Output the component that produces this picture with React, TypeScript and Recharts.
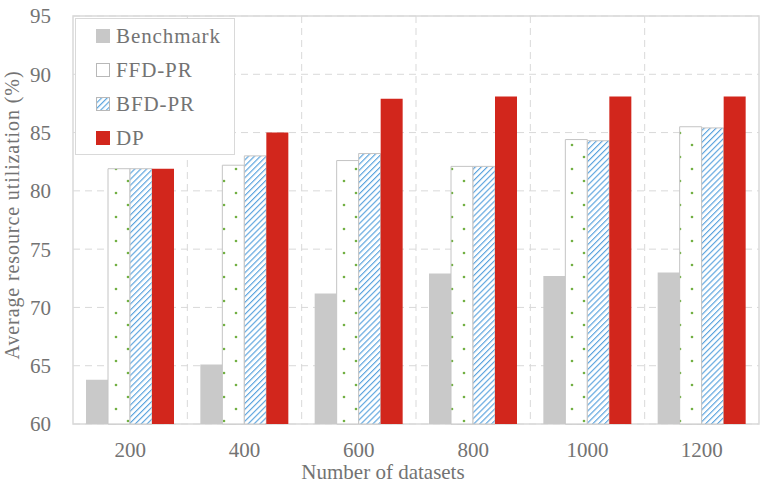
import React from 'react'
import {
  Bar,
  BarChart,
  CartesianGrid,
  Label,
  Legend,
  ReferenceArea,
  XAxis,
  YAxis,
} from 'recharts'

const datasets = ['200', '400', '600', '800', '1000', '1200']
const benchmark = [63.8, 65.1, 71.2, 72.9, 72.7, 73.0]
const ffdPr = [81.9, 82.2, 82.6, 82.1, 84.4, 85.5]
const bfdPr = [81.9, 83.0, 83.2, 82.1, 84.3, 85.4]
const dp = [81.9, 85.0, 87.9, 88.1, 88.1, 88.1]
const yTicks = [60, 65, 70, 75, 80, 85, 90, 95]

const data = datasets.map((name, i) => ({
  name,
  benchmark: benchmark[i],
  ffd: ffdPr[i],
  bfd: bfdPr[i],
  dp: dp[i],
}))

const font = '"Liberation Serif", "Times New Roman", serif'
const textColor = '#737373'
const gridColor = '#d9d9d9'

const legendItems = [
  { key: 'benchmark', label: 'Benchmark' },
  { key: 'ffd', label: 'FFD-PR' },
  { key: 'bfd', label: 'BFD-PR' },
  { key: 'dp', label: 'DP' },
]

function Swatch({ kind }: { kind: string }) {
  return (
    <svg width={14} height={14} style={{ display: 'block' }}>
      <defs>
        <pattern id={'sw-' + kind} patternUnits="userSpaceOnUse" width={4} height={4} patternTransform="rotate(45)">
          <rect width={4} height={4} fill="#fff" />
          <line x1={0} y1={0} x2={0} y2={4} stroke="#5ea7e0" strokeWidth={2.4} />
        </pattern>
      </defs>
      {kind === 'benchmark' && <rect x={0} y={0} width={14} height={14} fill="#c8c8c8" />}
      {kind === 'ffd' && <rect x={0.5} y={0.5} width={13} height={13} fill="#fff" stroke="#b8b8b8" />}
      {kind === 'bfd' && <rect x={0.5} y={0.5} width={13} height={13} fill={'url(#sw-' + kind + ')'} stroke="#b8b8b8" />}
      {kind === 'dp' && <rect x={0} y={0} width={14} height={14} fill="#d2261c" />}
    </svg>
  )
}

function LegendBox() {
  return (
    <div
      style={{
        width: 158,
        height: 135,
        border: `1.5px solid ${gridColor}`,
        background: '#fff',
        fontFamily: font,
        fontSize: 21,
        color: textColor,
      }}
    >
      {legendItems.map((it, i) => (
        <div
          key={it.key}
          style={{
            position: 'absolute',
            left: 21,
            top: 5 + i * 34,
            height: 26,
            display: 'flex',
            alignItems: 'center',
          }}
        >
          <Swatch kind={it.key} />
          <span style={{ marginLeft: 6, letterSpacing: 0.9, whiteSpace: 'nowrap' }}>{it.label}</span>
        </div>
      ))}
    </div>
  )
}

export default function App() {
  return (
    <div style={{ position: 'absolute', left: 0, top: 0, width: 766, height: 483, background: '#fff' }}>
      <BarChart
        width={766}
        height={483}
        data={data}
        margin={{ top: 16, right: 7, bottom: 0, left: 0 }}
        barCategoryGap={13}
        barGap={0}
      >
        <defs>
          <pattern id="dots" patternUnits="userSpaceOnUse" x={20} y={1} width={24} height={24}>
            <rect width={24} height={24} fill="#fff" />
            <circle cx={0} cy={0} r={1.3} fill="#72b043" />
            <circle cx={24} cy={0} r={1.3} fill="#72b043" />
            <circle cx={0} cy={24} r={1.3} fill="#72b043" />
            <circle cx={24} cy={24} r={1.3} fill="#72b043" />
            <circle cx={12} cy={12} r={1.3} fill="#72b043" />
          </pattern>
          <pattern id="stripes" patternUnits="userSpaceOnUse" width={4.2} height={4.2} patternTransform="rotate(45)">
            <rect width={4.2} height={4.2} fill="#fff" />
            <line x1={0} y1={0} x2={0} y2={4.2} stroke="#5aa3de" strokeWidth={2.3} />
          </pattern>
        </defs>
        <CartesianGrid
          stroke={gridColor}
          strokeDasharray="7 5"
          verticalCoordinatesGenerator={({ offset }: any) =>
            [1, 2, 3, 4, 5].map((k) => offset.left + (k * offset.width) / datasets.length)
          }
        />
        <ReferenceArea y1={60} y2={95} fill="none" stroke={gridColor} strokeWidth={1.5} ifOverflow="visible" />
        <XAxis
          dataKey="name"
          height={59}
          axisLine={false}
          tickLine={false}
          tickSize={0}
          tickMargin={18}
          tick={{ fill: textColor, fontSize: 21, fontFamily: font }}
        >
          <Label
            content={({ viewBox }: any) => (
              <text
                x={383}
                y={viewBox.y + 55}
                textAnchor="middle"
                fill={textColor}
                fontSize={21}
                fontFamily={font}
              >
                Number of datasets
              </text>
            )}
          />
        </XAxis>
        <YAxis
          width={73}
          domain={[60, 95]}
          ticks={yTicks}
          interval={0}
          axisLine={false}
          tickLine={false}
          tickSize={0}
          tickMargin={22}
          tick={{ fill: textColor, fontSize: 21, fontFamily: font }}
        >
          <Label
            content={({ viewBox }: any) => {
              const cy = viewBox.y + viewBox.height / 2 - 5
              return (
                <text
                  x={19}
                  y={cy}
                  transform={`rotate(-90 19 ${cy})`}
                  textAnchor="middle"
                  fill={textColor}
                  fontSize={20}
                  letterSpacing={0.9}
                  fontFamily={font}
                >
                  Average resource utilization (%)
                </text>
              )
            }}
          />
        </YAxis>
        <Legend
          layout="vertical"
          align="center"
          verticalAlign="middle"
          wrapperStyle={{ left: 75, top: 18, width: 160, height: 137 }}
          content={() => <LegendBox />}
        />
        <Bar dataKey="benchmark" name="Benchmark" fill="#c9c9c9" isAnimationActive={false} />
        <Bar dataKey="ffd" name="FFD-PR" fill="url(#dots)" stroke="#c4c4c4" strokeWidth={1} isAnimationActive={false} />
        <Bar dataKey="bfd" name="BFD-PR" fill="url(#stripes)" stroke="#c4c4c4" strokeWidth={1} isAnimationActive={false} />
        <Bar dataKey="dp" name="DP" fill="#d2261c" isAnimationActive={false} />
      </BarChart>
    </div>
  )
}
